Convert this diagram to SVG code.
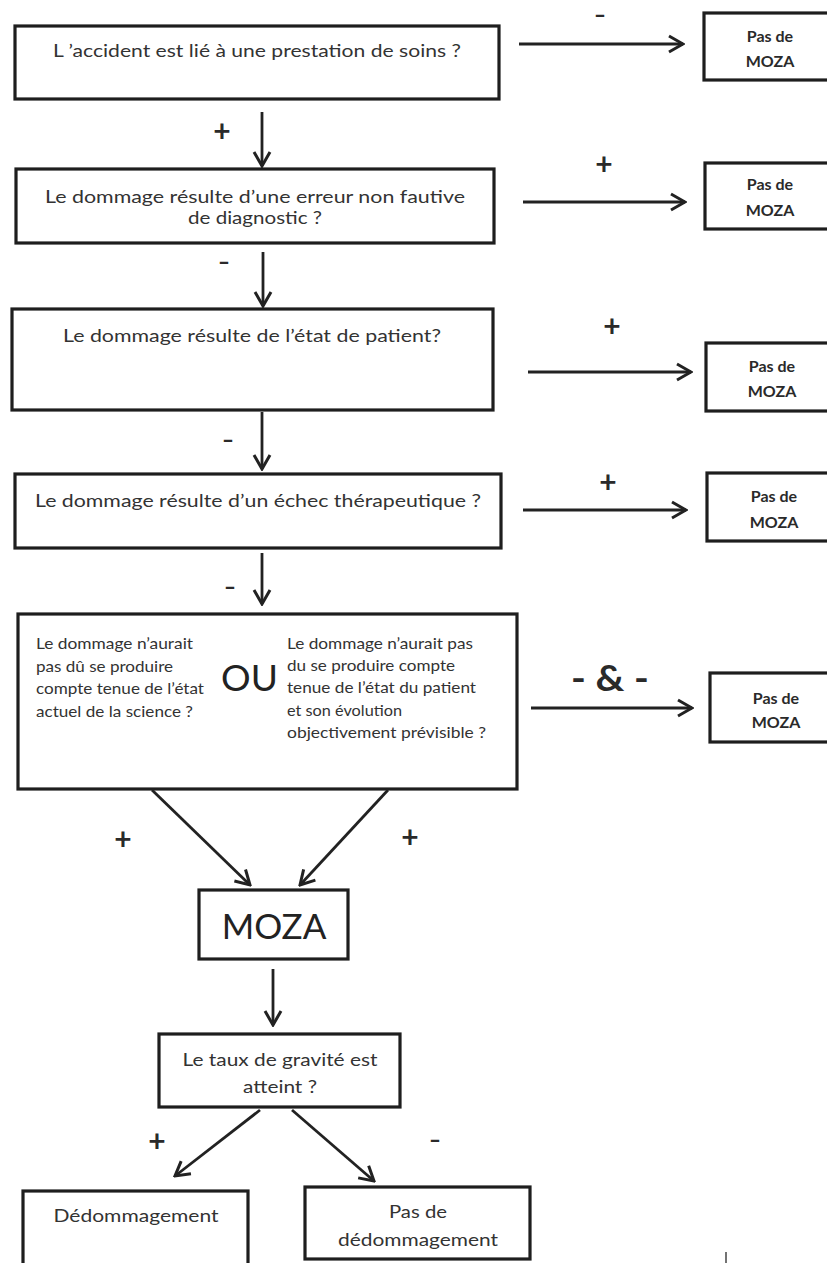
<svg xmlns="http://www.w3.org/2000/svg" width="827" height="1263" viewBox="0 0 827 1263">
<style>
.box{fill:#fff;stroke:#1e1e1e;stroke-width:3.2}
.t{font-family:Lato,"Liberation Sans",sans-serif;font-size:18px;fill:#333;text-anchor:start}
.c{text-anchor:middle}
.s{font-size:15px}
.pm{font-family:Lato,"Liberation Sans",sans-serif;font-size:16px;font-weight:bold;fill:#2a2a2a;text-anchor:middle}
.lbl{font-family:Lato,"Liberation Sans",sans-serif;font-size:30px;font-weight:bold;fill:#2a2a2a;text-anchor:middle}
.dash{font-family:Lato,"Liberation Sans",sans-serif;font-size:22px;font-weight:bold;fill:#2a2a2a;text-anchor:middle}
.con path{fill:none;stroke:#222;stroke-width:2.8;marker-end:url(#ah)}
</style>
<defs>
<marker id="ah" markerUnits="userSpaceOnUse" markerWidth="18" markerHeight="20" viewBox="0 0 18 20" refX="16" refY="10" orient="auto">
<path d="M2,2 L16,10 L2,18" fill="none" stroke="#222" stroke-width="3" stroke-linejoin="miter"/>
</marker>
</defs>
<rect width="827" height="1263" fill="#fff"/>

<g id="q1">
<rect class="box" x="15" y="26" width="484" height="73"/>
<text class="t" x="53" y="57" textLength="408" lengthAdjust="spacingAndGlyphs">L ’accident est lié à une prestation de soins ?</text>
</g>
<g id="r1">
<rect class="box" x="704" y="13" width="140" height="67"/>
<text class="pm" x="770" y="42">Pas de</text>
<text class="pm" x="770" y="67">MOZA</text>
</g>

<g id="q2">
<rect class="box" x="16" y="169" width="478" height="74"/>
<text class="t" x="45" y="203" textLength="420" lengthAdjust="spacingAndGlyphs">Le dommage résulte d’une erreur non fautive</text>
<text class="t" x="188" y="224" textLength="134" lengthAdjust="spacingAndGlyphs">de diagnostic ?</text>
</g>
<g id="r2">
<rect class="box" x="705" y="163" width="140" height="66"/>
<text class="pm" x="770" y="190">Pas de</text>
<text class="pm" x="770" y="216">MOZA</text>
</g>

<g id="q3">
<rect class="box" x="12" y="309" width="481" height="101"/>
<text class="t" x="63" y="342" textLength="378" lengthAdjust="spacingAndGlyphs">Le dommage résulte de l’état de patient?</text>
</g>
<g id="r3">
<rect class="box" x="706" y="343" width="140" height="68"/>
<text class="pm" x="772" y="372">Pas de</text>
<text class="pm" x="772" y="397">MOZA</text>
</g>

<g id="q4">
<rect class="box" x="15" y="474" width="486" height="74"/>
<text class="t" x="35" y="507" textLength="446" lengthAdjust="spacingAndGlyphs">Le dommage résulte d’un échec thérapeutique ?</text>
</g>
<g id="r4">
<rect class="box" x="707" y="473" width="140" height="68"/>
<text class="pm" x="774" y="502">Pas de</text>
<text class="pm" x="774" y="528">MOZA</text>
</g>

<g id="q5">
<rect class="box" x="18" y="614" width="499" height="175"/>
<text class="t s" x="36" y="649" textLength="157" lengthAdjust="spacingAndGlyphs">Le dommage n’aurait</text>
<text class="t s" x="36" y="672" textLength="137" lengthAdjust="spacingAndGlyphs">pas dû se produire</text>
<text class="t s" x="36" y="694" textLength="168" lengthAdjust="spacingAndGlyphs">compte tenue de l’état</text>
<text class="t s" x="36" y="717" textLength="157" lengthAdjust="spacingAndGlyphs">actuel de la science ?</text>
<text class="t c" x="249.5" y="691" style="font-size:37px;fill:#222">OU</text>
<text class="t s" x="287" y="649" textLength="186" lengthAdjust="spacingAndGlyphs">Le dommage n’aurait pas</text>
<text class="t s" x="287" y="671" textLength="168" lengthAdjust="spacingAndGlyphs">du se produire compte</text>
<text class="t s" x="287" y="693" textLength="189" lengthAdjust="spacingAndGlyphs">tenue de l’état du patient</text>
<text class="t s" x="287" y="716" textLength="115" lengthAdjust="spacingAndGlyphs">et son évolution</text>
<text class="t s" x="287" y="738" textLength="199" lengthAdjust="spacingAndGlyphs">objectivement prévisible  ?</text>
</g>
<g id="r5">
<rect class="box" x="710" y="673" width="140" height="69"/>
<text class="pm" x="776" y="704">Pas de</text>
<text class="pm" x="776" y="728">MOZA</text>
</g>

<g id="moza">
<rect class="box" x="199" y="890" width="149" height="69"/>
<text class="t c" x="274" y="939" style="font-size:35px;fill:#222">MOZA</text>
</g>

<g id="taux">
<rect class="box" x="159" y="1034" width="241" height="73"/>
<text class="t c" x="280" y="1066" textLength="195" lengthAdjust="spacingAndGlyphs">Le taux de gravité est</text>
<text class="t c" x="280" y="1093" textLength="74" lengthAdjust="spacingAndGlyphs">atteint ?</text>
</g>

<g id="dedom">
<rect class="box" x="23" y="1191" width="225" height="80"/>
<text class="t c" x="136" y="1222" textLength="165" lengthAdjust="spacingAndGlyphs">Dédommagement</text>
</g>

<g id="pasdedom">
<rect class="box" x="305" y="1187" width="225" height="72"/>
<text class="t c" x="418" y="1218" textLength="58" lengthAdjust="spacingAndGlyphs">Pas de</text>
<text class="t c" x="418" y="1246" textLength="160" lengthAdjust="spacingAndGlyphs">dédommagement</text>
</g>

<g id="connectors" class="con">
<path d="M519,44 H683"/>
<path d="M523,202 H685"/>
<path d="M528,372 H691"/>
<path d="M523,510 H686"/>
<path d="M531,708 H692"/>
<path d="M262,112 V166"/>
<path d="M263,252 V306"/>
<path d="M262,412 V469"/>
<path d="M262,553 V604"/>
<path d="M152,790 L250,885"/>
<path d="M388,790 L300,885"/>
<path d="M273,969 V1025"/>
<path d="M260,1110 L175,1176"/>
<path d="M292,1110 L374,1181"/>
</g>

<g id="labels">
<text class="dash" x="600" y="23" textLength="12" lengthAdjust="spacingAndGlyphs">-</text>
<text class="lbl" x="222" y="142">+</text>
<text class="lbl" x="604" y="175">+</text>
<text class="dash" x="224" y="270" textLength="12" lengthAdjust="spacingAndGlyphs">-</text>
<text class="lbl" x="612" y="337">+</text>
<text class="dash" x="228" y="448" textLength="12" lengthAdjust="spacingAndGlyphs">-</text>
<text class="lbl" x="608" y="493">+</text>
<text class="dash" x="230" y="595" textLength="12" lengthAdjust="spacingAndGlyphs">-</text>
<text class="lbl" x="610" y="691" style="font-size:36px" textLength="78" lengthAdjust="spacingAndGlyphs">- &amp; -</text>
<text class="lbl" x="123" y="850">+</text>
<text class="lbl" x="410" y="848">+</text>
<text class="lbl" x="157" y="1152">+</text>
<text class="dash" x="435" y="1148" textLength="12" lengthAdjust="spacingAndGlyphs">-</text>
</g>
<path d="M726,1252 V1263" stroke="#444" stroke-width="1.5"/>
</svg>
